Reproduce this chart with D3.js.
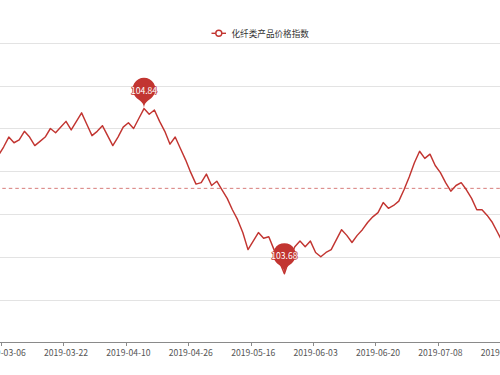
<!DOCTYPE html>
<html><head><meta charset="utf-8">
<script src="https://cdn.jsdelivr.net/npm/d3@7"></script>
<style>html,body{margin:0;padding:0;background:#fff;overflow:hidden;} svg{display:block;}</style>
</head><body>
<svg id="c" width="500" height="375"></svg>
<script>
const seriesName = "化纤类产品价格指数";
const dates = [
"2019-03-05","2019-03-06","2019-03-07","2019-03-08","2019-03-11","2019-03-12","2019-03-13","2019-03-14","2019-03-15","2019-03-18","2019-03-19","2019-03-20","2019-03-21","2019-03-22",
"2019-03-25","2019-03-26","2019-03-27","2019-03-28","2019-03-29","2019-04-01","2019-04-02","2019-04-03","2019-04-04","2019-04-08","2019-04-09","2019-04-10",
"2019-04-11","2019-04-12","2019-04-15","2019-04-16","2019-04-17","2019-04-18","2019-04-19","2019-04-22","2019-04-23","2019-04-24","2019-04-25","2019-04-26",
"2019-04-28","2019-04-29","2019-04-30","2019-05-06","2019-05-07","2019-05-08","2019-05-09","2019-05-10","2019-05-13","2019-05-14","2019-05-15","2019-05-16",
"2019-05-17","2019-05-20","2019-05-21","2019-05-22","2019-05-23","2019-05-24","2019-05-27","2019-05-28","2019-05-29","2019-05-30","2019-05-31","2019-06-03",
"2019-06-04","2019-06-05","2019-06-06","2019-06-10","2019-06-11","2019-06-12","2019-06-13","2019-06-14","2019-06-17","2019-06-18","2019-06-19","2019-06-20",
"2019-06-21","2019-06-24","2019-06-25","2019-06-26","2019-06-27","2019-06-28","2019-07-01","2019-07-02","2019-07-03","2019-07-04","2019-07-05","2019-07-08",
"2019-07-09","2019-07-10","2019-07-11","2019-07-12","2019-07-15","2019-07-16","2019-07-17","2019-07-18","2019-07-19","2019-07-22","2019-07-23","2019-07-24"
];
const values = [
104.51,104.57,104.64,104.60,104.62,104.68,104.64,104.58,104.61,104.64,104.70,104.67,104.71,104.75,
104.69,104.75,104.81,104.73,104.65,104.68,104.72,104.65,104.58,104.64,104.71,104.74,
104.70,104.77,104.84,104.80,104.83,104.75,104.68,104.59,104.64,104.56,104.48,104.39,
104.31,104.32,104.38,104.30,104.33,104.27,104.21,104.13,104.06,103.97,103.85,103.91,
103.97,103.93,103.94,103.85,103.77,103.68,103.79,103.87,103.91,103.87,103.91,103.83,
103.80,103.83,103.85,103.92,103.99,103.95,103.90,103.95,103.99,104.04,104.08,104.11,
104.18,104.14,104.16,104.19,104.27,104.36,104.46,104.54,104.49,104.52,104.44,104.39,
104.32,104.26,104.30,104.32,104.27,104.21,104.13,104.13,104.09,104.04,103.97,103.90
];
const xTickLabels = ["2019-03-06","2019-03-22","2019-04-10","2019-04-26","2019-05-16","2019-06-03","2019-06-20","2019-07-08","2019-07-24"];
const yTicks = [103.2,103.5,103.8,104.1,104.4,104.7,105.0,105.3];
const avgValue = 104.28;

const color = "#c23531";
const font = "'Microsoft YaHei','Noto Sans CJK SC','Open Sans',sans-serif";
const gridLeft = -4.2, gridTop = 43, gridBottom = 342.25;
const step = 5.2;
const gridRight = gridLeft + step * dates.length;

const svg = d3.select("#c");
const x = d3.scaleBand().domain(dates).range([gridLeft, gridRight]).padding(0);
const y = d3.scaleLinear().domain([d3.min(yTicks), d3.max(yTicks)]).range([gridBottom, gridTop]);
const cx = d => x(d) + x.bandwidth() / 2;

// grid lines
svg.append("g").selectAll("line").data(yTicks.slice(1)).join("line")
  .attr("x1", gridLeft).attr("x2", gridRight)
  .attr("y1", d => Math.round(y(d)) + 0.5).attr("y2", d => Math.round(y(d)) + 0.5)
  .attr("stroke", "#e3e3e3").attr("stroke-width", 1);

// x axis
const ax = svg.append("g");
ax.append("line").attr("x1", gridLeft).attr("x2", gridRight)
  .attr("y1", Math.round(gridBottom) + 0.5).attr("y2", Math.round(gridBottom) + 0.5)
  .attr("stroke", "#8a8a8a").attr("stroke-width", 1);
ax.selectAll("line.t").data(xTickLabels).join("line").attr("class", "t")
  .attr("x1", d => Math.round(x(d)) + 0.5).attr("x2", d => Math.round(x(d)) + 0.5)
  .attr("y1", Math.round(gridBottom)).attr("y2", Math.round(gridBottom) + 4)
  .attr("stroke", "#8a8a8a");
ax.selectAll("text").data(xTickLabels).join("text")
  .attr("x", d => cx(d)).attr("y", 352)
  .attr("text-anchor", "middle").attr("dominant-baseline", "central")
  .attr("font-family", font).attr("font-size", "8.6px").attr("fill", "#555")
  .text(d => d);

// average line
svg.append("line").attr("x1", gridLeft).attr("x2", gridRight)
  .attr("y1", y(avgValue)).attr("y2", y(avgValue))
  .attr("stroke", color).attr("stroke-opacity", 0.65).attr("stroke-width", 1)
  .attr("stroke-dasharray", "3.5,3");

// series line
const line = d3.line().x((d, i) => cx(dates[i])).y(d => y(d));
svg.append("path").datum(values).attr("d", line)
  .attr("fill", "none").attr("stroke", color).attr("stroke-width", 1.45)
  .attr("stroke-linejoin", "round");

// pins (ECharts-style)
function pinPath(px, py, width, height) {
  const w = width / 5 * 3, h = Math.max(w, height), r = w / 2;
  const dy = r * r / (h - r), cyy = py - h + r + dy;
  const angle = Math.asin(dy / r), dx = Math.cos(angle) * r;
  const tanX = Math.sin(angle), tanY = Math.cos(angle);
  const cpLen = r * 0.6, cpLen2 = r * 0.7;
  const p = d3.path();
  p.moveTo(px - dx, cyy + dy);
  p.arc(px, cyy, r, Math.PI - angle, Math.PI * 2 + angle);
  p.bezierCurveTo(px + dx - tanX * cpLen, cyy + dy + tanY * cpLen, px, py - cpLen2, px, py);
  p.bezierCurveTo(px, py - cpLen2, px - dx + tanX * cpLen, cyy + dy + tanY * cpLen, px - dx, cyy + dy);
  p.closePath();
  return { d: p.toString(), cy: cyy };
}
const extremes = [d3.maxIndex(values), d3.minIndex(values)];
extremes.forEach(i => {
  const px = cx(dates[i]), py = y(values[i]);
  const pin = pinPath(px, py, 38, 36);
  svg.append("path").attr("d", pin.d).attr("fill", color);
  svg.append("text").attr("x", px).attr("y", pin.cy + 0.5)
    .attr("text-anchor", "middle").attr("dominant-baseline", "central")
    .attr("font-family", font).attr("font-size", "8.6px").attr("fill", "#fff")
    .attr("stroke", color).attr("stroke-width", 1.4).attr("paint-order", "stroke")
    .attr("stroke-linejoin", "round")
    .text(values[i].toFixed(2));
});

// legend
const lg = svg.append("g");
lg.append("line").attr("x1", 211.5).attr("x2", 226).attr("y1", 33.3).attr("y2", 33.3)
  .attr("stroke", color).attr("stroke-width", 1.4);
lg.append("circle").attr("cx", 218.8).attr("cy", 33.3).attr("r", 3)
  .attr("fill", "#fff").attr("stroke", color).attr("stroke-width", 1.4);
lg.append("text").attr("x", 231.5).attr("y", 33.3).attr("dominant-baseline", "central")
  .attr("font-family", font).attr("font-size", "8.6px").attr("fill", "#333")
  .text(seriesName);
</script>
</body></html>
